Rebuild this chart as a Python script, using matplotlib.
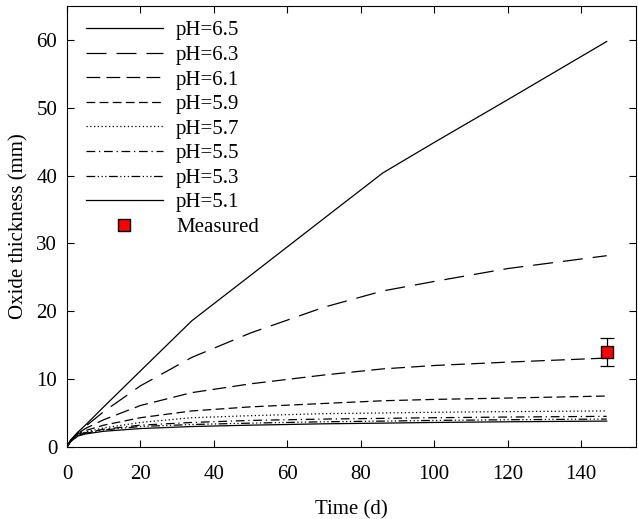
import numpy as np
import matplotlib
matplotlib.use('Agg')
import matplotlib.pyplot as plt
from matplotlib.lines import Line2D

plt.rcParams['font.family'] = ['Liberation Serif', 'DejaVu Serif']
plt.rcParams['font.size'] = 15

# time points (d)
t = [0, 1, 3, 5, 10, 20, 34, 50, 70, 86, 100, 120, 147]

# oxide thickness for each pH
ph65 = [0, 1.0, 2.2, 3.2, 5.9, 11.2, 18.6, 25.3, 33.7, 40.4, 44.9, 51.2, 59.8]
ph63 = [0, 1.0, 2.1, 3.0, 5.2, 9.0, 13.2, 16.8, 20.6, 23.0, 24.4, 26.3, 28.2]
ph61 = [0, 0.9, 2.0, 2.7, 4.0, 6.1, 8.0, 9.3, 10.6, 11.5, 12.0, 12.5, 13.1]
ph59 = [0, 0.9, 1.9, 2.4, 3.2, 4.3, 5.3, 5.9, 6.4, 6.8, 7.0, 7.2, 7.5]
ph57 = [0, 0.9, 1.8, 2.2, 2.8, 3.6, 4.3, 4.6, 4.9, 5.0, 5.1, 5.2, 5.3]
ph55 = [0, 0.8, 1.7, 2.1, 2.6, 3.2, 3.6, 3.9, 4.1, 4.2, 4.3, 4.4, 4.5]
ph53 = [0, 0.8, 1.7, 2.0, 2.5, 3.0, 3.3, 3.5, 3.7, 3.8, 3.9, 4.0, 4.1]
ph51 = [0, 0.8, 1.6, 1.9, 2.3, 2.7, 3.0, 3.2, 3.4, 3.5, 3.6, 3.7, 3.8]

t_meas = [147]
y_meas = [14.0]
err_meas = [2.0]

series = [
    ('pH=6.5', ph65, '-'),
    ('pH=6.3', ph63, (0, (16, 8))),
    ('pH=6.1', ph61, (0, (11, 5))),
    ('pH=5.9', ph59, (0, (7, 3.5))),
    ('pH=5.7', ph57, (0, (1, 2))),
    ('pH=5.5', ph55, (0, (7, 3, 1, 3))),
    ('pH=5.3', ph53, (0, (7, 2, 1, 2, 1, 2, 1, 2))),
    ('pH=5.1', ph51, '-'),
]

fig = plt.figure(figsize=(6.38, 5.19), dpi=100)
ax = fig.add_axes([0.105, 0.139, 0.892, 0.849])

handles = []
for label, y, ls in series:
    h, = ax.plot(t, y, color='black', lw=0.9, linestyle=ls, label=label)
    handles.append(h)

ax.errorbar(t_meas, y_meas, yerr=err_meas, fmt='s', color='black',
            markerfacecolor='red', markeredgecolor='black', markersize=9,
            capsize=5, elinewidth=0.9, capthick=0.9)
handles.append(Line2D([], [], linestyle='none', marker='s', markersize=9,
                      markerfacecolor='red', markeredgecolor='black', label='Measured'))

ax.set_xlim(0, 155)
ax.set_ylim(0, 65)
ax.set_xticks(np.arange(0, 141, 20))
ax.set_yticks(np.arange(0, 61, 10))
ax.tick_params(direction='in', top=True, right=True, length=5, labelsize=15)
ax.tick_params(axis='x', pad=13)
ax.tick_params(axis='y', pad=7)
ax.set_xlabel('Time (d)', fontsize=15, labelpad=12)
ax.set_ylabel('Oxide thickness (mm)', fontsize=15, labelpad=6)

ax.legend(handles=handles, loc='upper left', bbox_to_anchor=(0.007, 1.0),
          frameon=False, handlelength=3.7, handletextpad=0.65,
          labelspacing=0.24, fontsize=15, borderaxespad=0.35, borderpad=0.35)

fig.savefig('out.png', dpi=100)
